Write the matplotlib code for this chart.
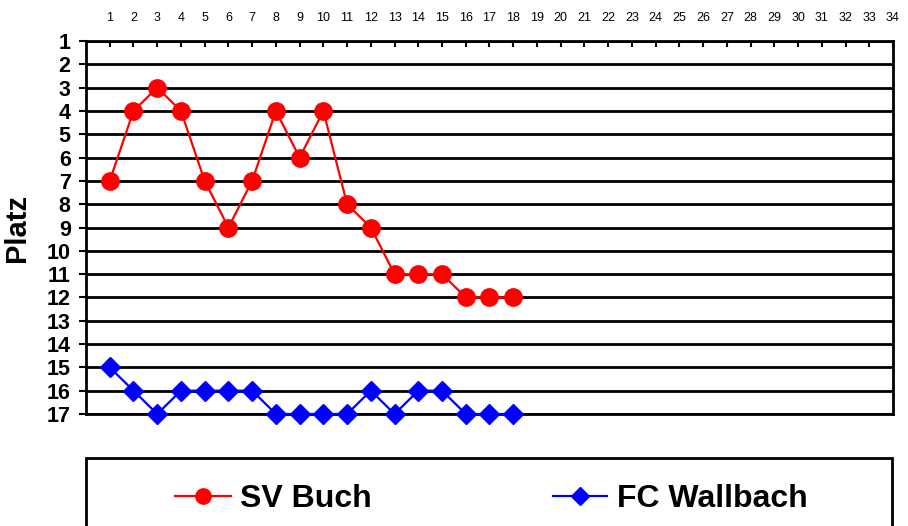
import matplotlib
matplotlib.use("Agg")
import matplotlib.pyplot as plt
from matplotlib.patches import Rectangle
from matplotlib.lines import Line2D

plt.rcParams['font.family'] = ['Liberation Sans', 'DejaVu Sans']

spieltage = list(range(1, 19))
sv_buch = [7, 4, 3, 4, 7, 9, 7, 4, 6, 4, 8, 9, 11, 11, 11, 12, 12, 12]
fc_wallbach = [15, 16, 17, 16, 16, 16, 16, 17, 17, 17, 17, 16, 17, 16, 16, 17, 17, 17]
x_ticks = list(range(1, 35))
y_ticks = list(range(1, 18))

fig = plt.figure(figsize=(9.08, 5.26), dpi=100)
ax = fig.add_axes([86/908, 1-414/526, (893-86)/908, (414-41)/526])

ax.plot(spieltage, sv_buch, color='#ff0000', lw=1.6, marker='o', ms=12.5,
        label='SV Buch', clip_on=False, zorder=3)
ax.plot(spieltage, fc_wallbach, color='#0000ff', lw=1.6, marker='D', ms=10,
        label='FC Wallbach', clip_on=False, zorder=3)

ax.set_xlim(0, 34)
ax.set_ylim(17, 1)
ax.set_xticks(x_ticks)
ax.set_yticks(y_ticks)
ax.xaxis.tick_top()
ax.tick_params(axis='x', direction='in', length=4, width=1.5, labelsize=9, pad=12)
ax.tick_params(axis='y', direction='out', length=5, width=1.5, labelsize=15.5, pad=6)
for lab in ax.get_yticklabels():
    lab.set_fontweight('bold')
ax.grid(axis='y', color='black', lw=2)
ax.set_axisbelow(True)
for s in ax.spines.values():
    s.set_linewidth(2)
    s.set_color('black')
ax.set_ylabel('Platz', fontsize=21, fontweight='bold')
ax.yaxis.set_label_coords(-55/807, (414-228)/373)

# legend box
rect = Rectangle((86/908, -0.05), (892-86)/908, (1-458/526)+0.05,
                 transform=fig.transFigure, fill=False, edgecolor='black', lw=2)
fig.add_artist(rect)
h1 = Line2D([], [], color='#ff0000', lw=1.6, marker='o', ms=11)
h2 = Line2D([], [], color='#0000ff', lw=1.6, marker='D', ms=9)
prop = {'size': 23, 'weight': 'bold'}
leg1 = fig.legend([h1], ['SV Buch'], loc='center left',
                  bbox_to_anchor=(175/908, 1-499/526), frameon=False, prop=prop,
                  handlelength=1.75, handletextpad=0.28, borderpad=0, borderaxespad=0)
leg2 = fig.legend([h2], ['FC Wallbach'], loc='center left',
                  bbox_to_anchor=(553/908, 1-499/526), frameon=False, prop=prop,
                  handlelength=1.69, handletextpad=0.31, borderpad=0, borderaxespad=0)

fig.savefig('out.png', dpi=100)
